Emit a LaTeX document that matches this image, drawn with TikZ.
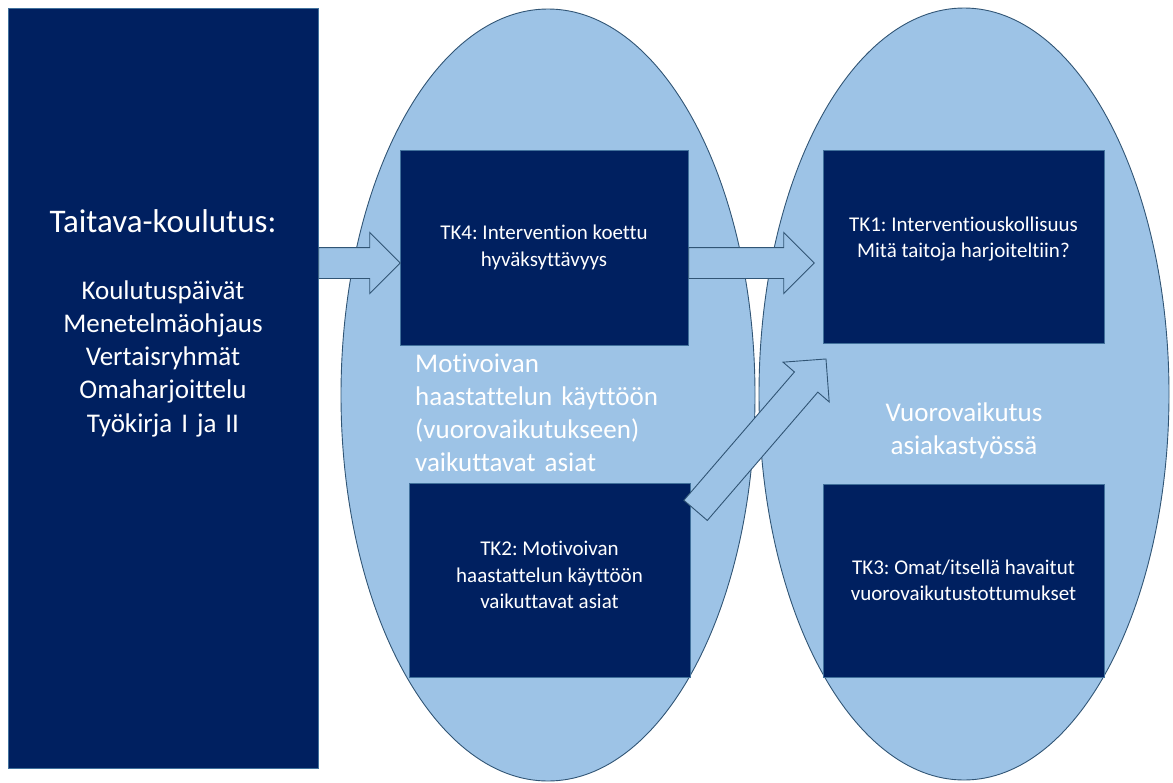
\documentclass[tikz,border=0pt]{standalone}
\usepackage{fontspec}
\setmainfont{Carlito}[Ligatures=NoCommon]
\usetikzlibrary{shapes.geometric,shapes.arrows,calc}
\definecolor{navyblue}{HTML}{002060}
\definecolor{paleblue}{HTML}{9DC3E6}
\definecolor{rimblue}{HTML}{41719C}
\frenchspacing
\begin{document}
\begin{tikzpicture}[x=1pt,y=-1pt,
  tkbox/.style={draw=rimblue,line width=0.6pt,fill=navyblue,text=white,align=center,
    font=\fontsize{21}{26.5}\selectfont,inner sep=0pt},
  oval/.style={ellipse,draw=rimblue!75!black,line width=0.9pt,fill=paleblue,inner sep=0pt},
  bigtext/.style={text=white,font=\fontsize{27}{33.3}\selectfont,inner sep=0pt},
  blockarrow/.style={single arrow,draw=rimblue!75!black,line width=0.9pt,fill=paleblue,
    inner sep=0pt,inner ysep=15pt,single arrow head extend=15pt,anchor=tail}]

\useasboundingbox (0,0) rectangle (1173,782);

% the two areas
\node[oval,minimum width=414pt,minimum height=772pt] (ell1) at (548,395) {};
\node[oval,minimum width=410pt,minimum height=772pt] (ell2) at (964,394) {};

\node[draw=rimblue,line width=0.6pt,fill=navyblue,minimum width=310pt,minimum height=760pt,inner sep=0pt] (train) at (163,388) {};

\node[tkbox,minimum width=288pt,minimum height=195pt] (tk4) at (544,247.5) {TK4: Intervention koettu\\hyväksyttävyys};
\node[tkbox,minimum width=281pt,minimum height=193pt,text depth=19pt] (tk1) at (963.5,246.5) {TK1: Interventiouskollisuus\\Mitä taitoja harjoiteltiin?};
\node[tkbox,minimum width=281pt,minimum height=194pt,text depth=10pt] (tk2) at (549.5,580) {TK2: Motivoivan\\haastattelun käyttöön\\vaikuttavat asiat};
\node[tkbox,minimum width=281pt,minimum height=193pt] (tk3) at (963.5,580.5) {TK3: Omat/itsellä havaitut\\vuorovaikutustottumukset};

% block arrows
\path let \p1=($(tk4.west |- 0,263)-(train.east |- 0,263)$), \n1={veclen(\x1,\y1)}, \n2={atan2(\y1,\x1)} in
  node[blockarrow,minimum height=\n1,rotate=\n2] (arr1) at (train.east |- 0,263) {};
\path let \p1=($(tk1.west |- 0,263)+(-9,0)-(tk4.east |- 0,263)$), \n1={veclen(\x1,\y1)}, \n2={atan2(\y1,\x1)} in
  node[blockarrow,minimum height=\n1,rotate=\n2] (arr2) at (tk4.east |- 0,263) {};
\path let \p1=($(tk1.south west)+(3,16)-(tk2.north east)-(5,28)$), \n1={veclen(\x1,\y1)}, \n2={atan2(\y1,\x1)} in
  node[blockarrow,minimum height=\n1,rotate=\n2] (arr3) at ($(tk2.north east)+(5,28)$) {};

% texts
\node[bigtext,font=\fontsize{33}{40}\selectfont,anchor=base] (title) at (163,232) {Taitava-koulutus:};
\node[bigtext,text width=300pt,align=center,anchor=base] (parts) at (163,299) {Koulutuspäivät\\Menetelmäohjaus\\Vertaisryhmät\\Omaharjoittelu\\Työkirja I ja II};
\node[bigtext,text width=290pt,align=left,anchor=base west] (mitext) at (415,372) {Motivoivan\\haastattelun käyttöön\\(vuorovaikutukseen)\\vaikuttavat asiat};
\node[bigtext,text width=260pt,align=center,anchor=base] (vvtext) at (964,421) {Vuorovaikutus\\asiakastyössä};
\end{tikzpicture}
\end{document}
